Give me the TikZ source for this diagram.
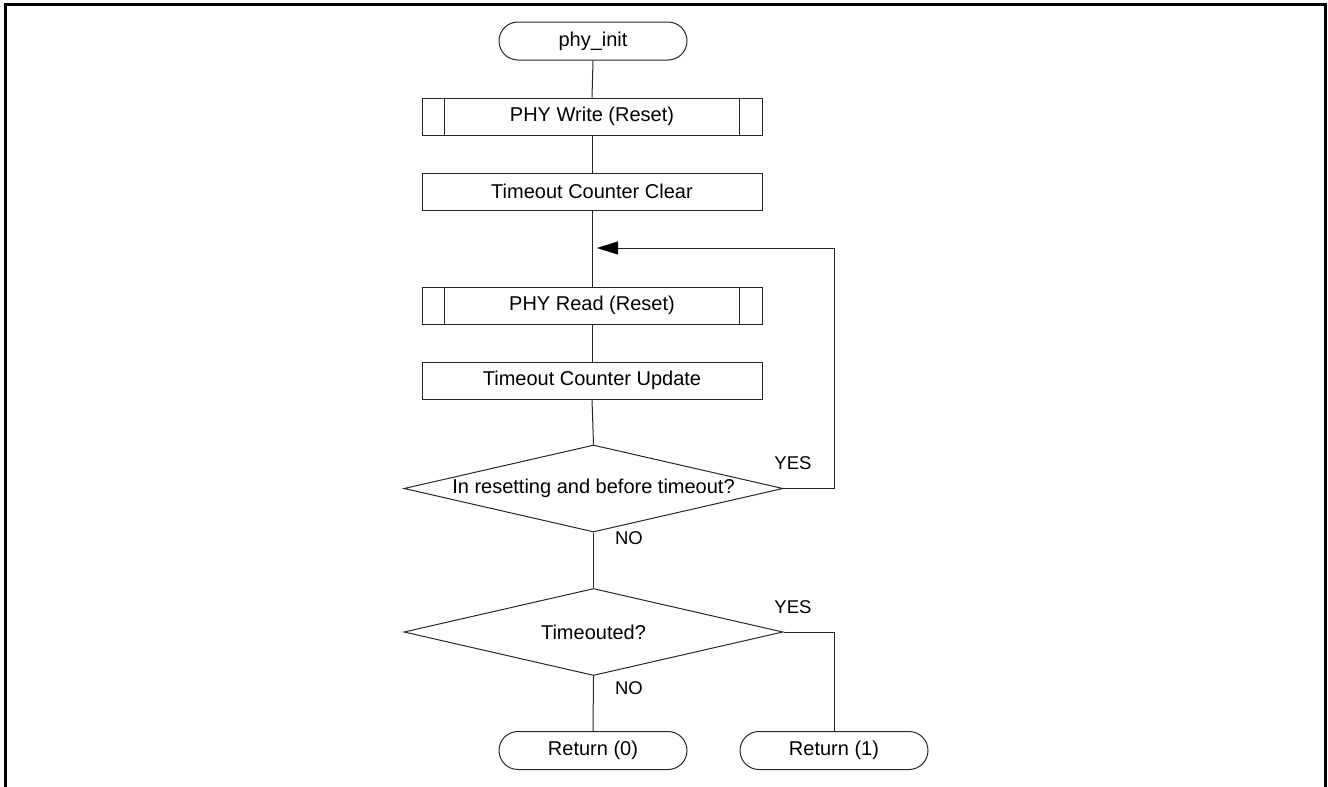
\documentclass[tikz,border=0pt]{standalone}
\usepackage{fontspec}
\setmainfont{Liberation Sans}
\usetikzlibrary{shapes.geometric,shapes.misc,arrows.meta}
\begin{document}
\begin{tikzpicture}[x=1pt,y=-1pt,
  every node/.style={font=\fontsize{20}{23}\selectfont},
  flow/.style={line width=1pt, draw=black!85},
  term/.style={draw=black!85, rounded rectangle, minimum width=188pt, minimum height=38pt, inner sep=0pt, line width=1pt},
  proc/.style={draw=black!85, rectangle, minimum width=340pt, minimum height=37pt, inner sep=0pt, line width=1pt},
  dec/.style={draw=black!85, diamond, aspect=4.36, minimum width=379pt, minimum height=87pt, inner sep=0pt, line width=1pt},
  lbl/.style={font=\fontsize{18.5}{20}\selectfont, inner sep=0pt}]
\useasboundingbox (0,0) rectangle (1328,787);
% frame
\draw[line width=3pt] (5.5,787) -- (5.5,4.5) -- (1325,4.5) -- (1325,787);
% nodes
\node[term] (start) at (593,41) {phy\_init};
\node[proc] (write) at (592,116.5) {PHY Write (Reset)};
\node[proc] (clear) at (592,191.5) {Timeout Counter Clear};
\coordinate (join) at (597,248);
\node[proc] (read) at (592,305.5) {PHY Read (Reset)};
\node[proc] (update) at (592,380.5) {Timeout Counter Update};
\node[dec] (d1) at (593.5,488.5) {In resetting and before timeout?};
\node[dec] (d2) at (593.5,632) {Timeouted?};
\node[term] (ret0) at (593,750.5) {Return (0)};
\node[term] (ret1) at (834,750.5) {Return (1)};
% subprocess bars
\foreach \n in {write,read}{
  \draw[flow] ([xshift=23pt]\n.north west) -- ([xshift=23pt]\n.south west);
  \draw[flow] ([xshift=-23pt]\n.north east) -- ([xshift=-23pt]\n.south east);
}
% connectors
\draw[flow] (start.south) -- (write.north);
\draw[flow] (write.south) -- (clear.north);
\draw[flow] (clear.south) -- (read.north);
\draw[flow] (read.south) -- (update.north);
\draw[flow] (update.south) -- (d1.north);
\draw[flow, -{Triangle[length=21pt,width=13pt,color=black]}] (d1.east) -| (834,248) -- (join);
\draw[flow] (d1.south) -- (d2.north);
\draw[flow] (d2.south) -- (ret0.north);
\draw[flow] (d2.east) -| (ret1.north);
% labels
\node[lbl] (yes1) at (793,463) {YES};
\node[lbl] (no1) at (629,538) {NO};
\node[lbl] (yes2) at (793,607) {YES};
\node[lbl] (no2) at (629,688) {NO};
\end{tikzpicture}
\end{document}
